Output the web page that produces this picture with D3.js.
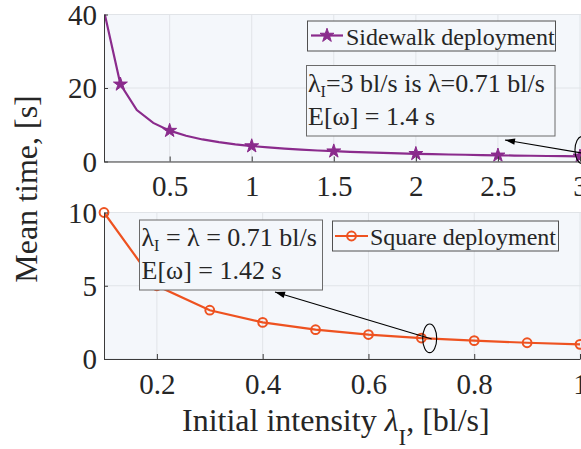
<!DOCTYPE html>
<html>
<head>
<meta charset="utf-8">
<script src="https://cdn.jsdelivr.net/npm/d3@7"></script>
<style>
  html, body { margin: 0; padding: 0; background: #ffffff; }
  svg { display: block; }
</style>
</head>
<body>
<svg id="chart" width="581" height="449"></svg>
<script>
// Sidewalk deployment: mean time vs initial intensity
const sidewalkX = [0.1, 0.2, 0.3, 0.4, 0.5, 0.6, 0.7, 0.8, 0.9, 1.0,
                   1.1, 1.2, 1.3, 1.4, 1.5, 1.6, 1.7, 1.8, 1.9, 2.0,
                   2.1, 2.2, 2.3, 2.4, 2.5, 2.6, 2.7, 2.8, 2.9, 3.0];
const sidewalkY = [41.0, 21.0, 14.0, 10.5, 8.4, 7.0, 6.0, 5.25, 4.67, 4.2,
                   3.82, 3.5, 3.23, 3.0, 2.8, 2.63, 2.47, 2.33, 2.21, 2.1,
                   2.0, 1.91, 1.83, 1.75, 1.68, 1.62, 1.56, 1.5, 1.45, 1.4];
const sidewalkMarkerX = [0.2, 0.5, 1.0, 1.5, 2.0, 2.5, 3.0];

// Square deployment
const squareX = [0.1, 0.2, 0.3, 0.4, 0.5, 0.6, 0.7, 0.8, 0.9, 1.0];
const squareY = [10.0, 5.0, 3.33, 2.5, 2.0, 1.67, 1.43, 1.25, 1.11, 1.0];

// Axis ticks
const topXTicks = [0.5, 1, 1.5, 2, 2.5, 3];
const topXTickLabels = ["0.5", "1", "1.5", "2", "2.5", "3"];
const topYTicks = [0, 20, 40];
const botXTicks = [0.2, 0.4, 0.6, 0.8, 1];
const botXTickLabels = ["0.2", "0.4", "0.6", "0.8", "1"];
const botYTicks = [0, 5, 10];

// Texts
const legendTop = "Sidewalk deployment";
const legendBot = "Square deployment";
const yLabel = "Mean time, [s]";

const FONT = "'Liberation Serif', 'Times New Roman', 'DejaVu Serif', serif";
const svg = d3.select("#chart").style("font-family", FONT);
const C_PURPLE = "#8a2b8c";
const C_ORANGE = "#ee5220";
const BG = "#f4f7fb";
const GRID = "#e1e4e8";
const AXIS = "#3a3a3a";
const INK = "#262626";

const left = 104, right = 580;
const topPanel = { y0: 14.5, y1: 161.5 };
const botPanel = { y0: 212.5, y1: 359 };

const xTop = d3.scaleLinear().domain([0.1, 3]).range([left, right]);
const yTop = d3.scaleLinear().domain([0, 40]).range([topPanel.y1, topPanel.y0]);
const xBot = d3.scaleLinear().domain([0.1, 1]).range([left, right]);
const yBot = d3.scaleLinear().domain([0, 10]).range([botPanel.y1, botPanel.y0]);

const defs = svg.append("defs");
function panelClip(id, p) {
  defs.append("clipPath").attr("id", id)
    .append("rect").attr("x", left).attr("y", p.y0)
    .attr("width", right - left + 20).attr("height", p.y1 - p.y0);
}
panelClip("clipTop", topPanel);
panelClip("clipBot", botPanel);

function txt(sel, size) {
  return sel.style("font-family", FONT).style("font-size", size + "px").attr("fill", INK);
}

function drawPanel(p, x, y, xt, yt) {
  const g = svg.append("g");
  g.append("rect").attr("x", left).attr("y", p.y0)
    .attr("width", right - left + 10).attr("height", p.y1 - p.y0)
    .attr("fill", BG);
  g.selectAll(".gx").data(xt).join("line")
    .attr("x1", d => x(d)).attr("x2", d => x(d))
    .attr("y1", p.y0).attr("y2", p.y1)
    .attr("stroke", GRID).attr("stroke-width", 1);
  g.selectAll(".gy").data(yt).join("line")
    .attr("x1", left).attr("x2", right + 10)
    .attr("y1", d => y(d)).attr("y2", d => y(d))
    .attr("stroke", GRID).attr("stroke-width", 1);
  return g;
}

function drawAxes(p, x, y, xt, xtl, yt) {
  const g = svg.append("g");
  const xa = d3.axisBottom(x).tickValues(xt).tickFormat((d, i) => xtl[i])
    .tickSizeInner(-5).tickSizeOuter(0).tickPadding(14);
  const gx = g.append("g").attr("transform", `translate(0,${p.y1})`).call(xa);
  gx.attr("font-family", null);
  gx.select(".domain").attr("stroke", AXIS);
  gx.selectAll(".tick line").attr("stroke", AXIS);
  txt(gx.selectAll(".tick text"), 29).attr("dy", "0.71em").attr("y", 14);
  const ya = d3.axisLeft(y).tickValues(yt).tickFormat(d3.format("d"))
    .tickSizeInner(-4).tickSizeOuter(0).tickPadding(8);
  const gy = g.append("g").attr("transform", `translate(${left},0)`).call(ya);
  gy.attr("font-family", null);
  gy.select(".domain").attr("stroke", AXIS);
  gy.selectAll(".tick line").attr("stroke", AXIS);
  txt(gy.selectAll(".tick text"), 29).attr("x", -7).attr("dy", "0.34em");
  return g;
}

function box(x0, y0, x1, y1, stroke) {
  svg.append("rect").attr("x", x0).attr("y", y0)
    .attr("width", x1 - x0).attr("height", y1 - y0)
    .attr("fill", BG).attr("stroke", stroke).attr("stroke-width", 1);
}

function arrow(x1, y1, x2, y2) {
  svg.append("line").attr("x1", x1).attr("y1", y1).attr("x2", x2).attr("y2", y2)
    .attr("stroke", "#000").attr("stroke-width", 1.1);
  const a = Math.atan2(y2 - y1, x2 - x1);
  const L = 10, W = 3.2;
  const bx = x2 - L * Math.cos(a), by = y2 - L * Math.sin(a);
  const px = -Math.sin(a) * W, py = Math.cos(a) * W;
  svg.append("path")
    .attr("d", `M${x2},${y2}L${bx + px},${by + py}L${bx - px},${by - py}Z`)
    .attr("fill", "#000");
}

const star = d3.symbol().type(d3.symbolStar).size(60);

// ---------- top panel ----------
drawPanel(topPanel, xTop, yTop, topXTicks, topYTicks);
const topData = sidewalkX.map((v, i) => [v, sidewalkY[i]]);
const topLine = d3.line().x(d => xTop(d[0])).y(d => yTop(d[1]));
const gTop = svg.append("g").attr("clip-path", "url(#clipTop)");
gTop.append("path").datum(topData).attr("d", topLine)
  .attr("fill", "none").attr("stroke", C_PURPLE).attr("stroke-width", 2.2);
gTop.selectAll(".star").data(topData.filter(d => sidewalkMarkerX.includes(d[0])))
  .join("path").attr("d", star)
  .attr("transform", d => `translate(${xTop(d[0])},${yTop(d[1])})`)
  .attr("fill", C_PURPLE).attr("stroke", C_PURPLE).attr("stroke-width", 1);
drawAxes(topPanel, xTop, yTop, topXTicks, topXTickLabels, topYTicks);

// legend (top)
box(307.5, 21, 555.5, 51, "#505050");
svg.append("line").attr("x1", 311).attr("x2", 343).attr("y1", 35.5).attr("y2", 35.5)
  .attr("stroke", C_PURPLE).attr("stroke-width", 2.2);
svg.append("path").attr("d", star).attr("transform", "translate(327,35.5)")
  .attr("fill", C_PURPLE).attr("stroke", C_PURPLE);
txt(svg.append("text").attr("x", 346).attr("y", 44.5), 24).text(legendTop);

// annotation (top)
box(306.5, 65.5, 555, 136, "#6b6b6b");
const tA = txt(svg.append("text").attr("x", 308).attr("y", 92), 26);
tA.append("tspan").text("λ");
tA.append("tspan").attr("dy", 5).style("font-size", "16px").text("I");
tA.append("tspan").attr("dy", -5).text("=3 bl/s is λ=0.71 bl/s");
txt(svg.append("text").attr("x", 308).attr("y", 125), 26).text("E[ω] = 1.4 s");

svg.append("ellipse").attr("cx", xTop(3.012)).attr("cy", yTop(3.13))
  .attr("rx", 7).attr("ry", 13.5).attr("fill", "none").attr("stroke", "#000").attr("stroke-width", 1.1);
arrow(xTop(3.012), yTop(2.31), xTop(2.543), yTop(5.85));

// ---------- bottom panel ----------
drawPanel(botPanel, xBot, yBot, botXTicks, botYTicks);
const botData = squareX.map((v, i) => [v, squareY[i]]);
const botLine = d3.line().x(d => xBot(d[0])).y(d => yBot(d[1]));
const gBot = svg.append("g").attr("clip-path", "url(#clipBot)");
gBot.append("path").datum(botData).attr("d", botLine)
  .attr("fill", "none").attr("stroke", C_ORANGE).attr("stroke-width", 2.2);
svg.append("g").selectAll("circle").data(botData).join("circle")
  .attr("cx", d => xBot(d[0])).attr("cy", d => yBot(d[1])).attr("r", 4.4)
  .attr("fill", "none").attr("stroke", C_ORANGE).attr("stroke-width", 2);
drawAxes(botPanel, xBot, yBot, botXTicks, botXTickLabels, botYTicks);

// annotation (bottom)
box(139.5, 220, 322.5, 290, "#6b6b6b");
const tB = txt(svg.append("text").attr("x", 141.5).attr("y", 245.5), 26);
tB.append("tspan").text("λ");
tB.append("tspan").attr("dy", 5).style("font-size", "16px").text("I");
tB.append("tspan").attr("dy", -5).text(" = λ = 0.71 bl/s");
txt(svg.append("text").attr("x", 141.5).attr("y", 279), 26).text("E[ω] = 1.42 s");

// legend (bottom)
box(332.5, 221, 558.5, 251, "#505050");
svg.append("line").attr("x1", 335).attr("x2", 368).attr("y1", 236).attr("y2", 236)
  .attr("stroke", C_ORANGE).attr("stroke-width", 2.2);
svg.append("circle").attr("cx", 351.5).attr("cy", 236).attr("r", 4.4)
  .attr("fill", "none").attr("stroke", C_ORANGE).attr("stroke-width", 2);
txt(svg.append("text").attr("x", 370).attr("y", 244.5), 24).text(legendBot);

svg.append("ellipse").attr("cx", xBot(0.7158)).attr("cy", yBot(1.41))
  .attr("rx", 7).attr("ry", 14.3).attr("fill", "none").attr("stroke", "#000").attr("stroke-width", 1.1);
arrow(xBot(0.7196), yBot(1.36), xBot(0.4233), yBot(4.57));

// ---------- axis titles ----------
txt(svg.append("text"), 32)
  .attr("transform", "translate(37,189) rotate(-90)")
  .attr("text-anchor", "middle").text(yLabel);

const xl = txt(svg.append("text").attr("x", 182).attr("y", 431), 32);
xl.append("tspan").text("Initial intensity ");
xl.append("tspan").style("font-style", "italic").text("λ");
xl.append("tspan").attr("dy", 14).style("font-size", "23px").text("I");
xl.append("tspan").attr("dy", -14).text(", [bl/s]");
</script>
</body>
</html>
